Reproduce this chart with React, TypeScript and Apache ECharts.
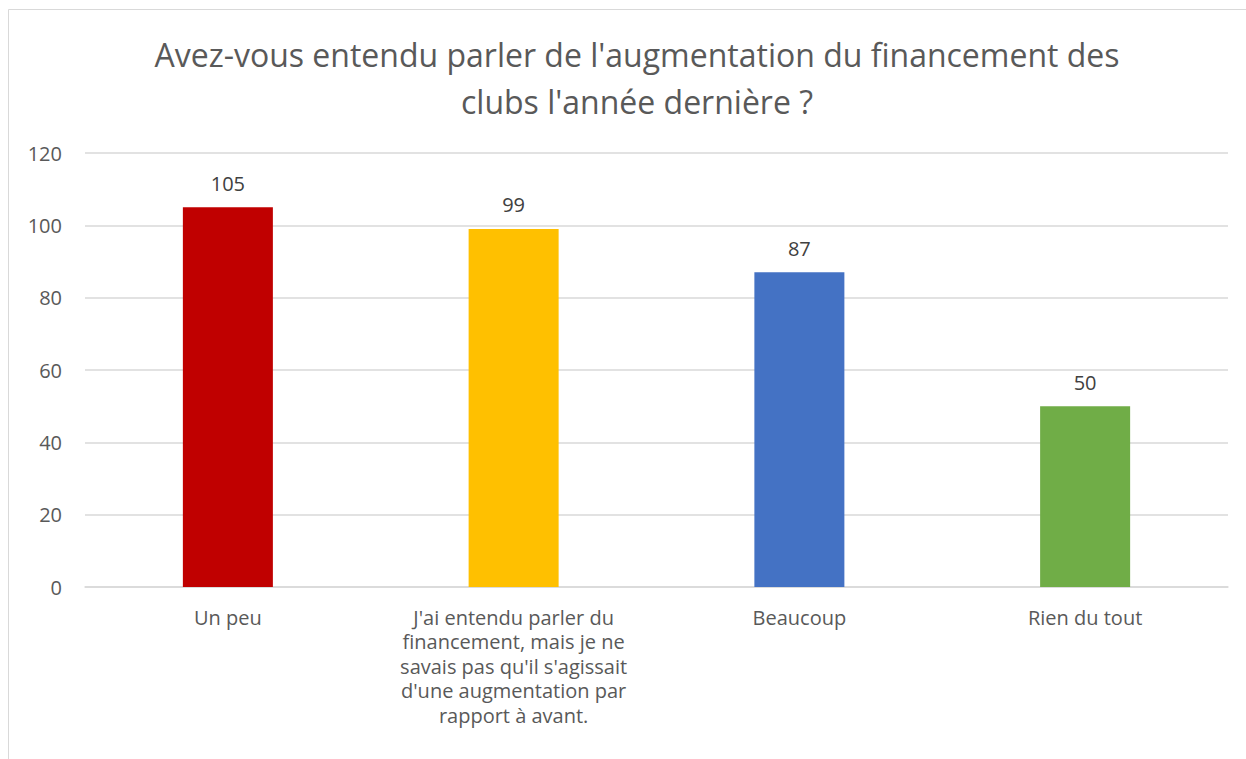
import React, { useEffect, useRef } from "react";
import * as echarts from "echarts";

const titleText = "Avez-vous entendu parler de l'augmentation du financement des\nclubs l'année dernière ?";
const categories = [
  "Un peu",
  "J'ai entendu parler du\nfinancement, mais je ne\nsavais pas qu'il s'agissait\nd'une augmentation par\nrapport à avant.",
  "Beaucoup",
  "Rien du tout",
];
const values = [105, 99, 87, 50];
const barColors = ["#C00000", "#FFC000", "#4472C4", "#70AD47"];
const yTicks = { min: 0, max: 120, interval: 20 };

const FONT = "'Open Sans', 'Noto Sans', sans-serif";

export default function App() {
  const ref = useRef<HTMLDivElement>(null);
  useEffect(() => {
    if (!ref.current) return;
    const chart = echarts.init(ref.current, null, { renderer: "svg" });
    chart.setOption({
      animation: false,
      backgroundColor: "#ffffff",
      title: {
        text: titleText,
        left: 632,
        textAlign: "center",
        top: 26,
        textStyle: {
          fontFamily: FONT,
          fontSize: 32,
          fontWeight: "normal",
          color: "#595959",
          lineHeight: 47,
        },
      },
      graphic: [
        {
          type: "rect",
          shape: { x: 8.5, y: 9.5, width: 1300, height: 800 },
          style: { fill: "none", stroke: "#d9d9d9", lineWidth: 1 },
          silent: true,
        },
      ],
      grid: { left: 85, right: 18, top: 153, bottom: 172, containLabel: false },
      xAxis: {
        type: "category",
        data: categories,
        axisLine: { show: true, lineStyle: { color: "#d9d9d9", width: 1.5 } },
        axisTick: { show: false },
        axisLabel: {
          interval: 0,
          margin: 18,
          fontFamily: FONT,
          fontSize: 20,
          color: "#595959",
          lineHeight: 24.5,
          align: "center",
          verticalAlign: "top",
        },
      },
      yAxis: {
        type: "value",
        min: yTicks.min,
        max: yTicks.max,
        interval: yTicks.interval,
        axisLine: { show: false },
        axisTick: { show: false },
        splitLine: { lineStyle: { color: "#d9d9d9", width: 1.5 } },
        axisLabel: {
          margin: 23,
          fontFamily: FONT,
          fontSize: 20,
          color: "#595959",
        },
      },
      series: [
        {
          type: "bar",
          data: values.map((v, i) => ({ value: v, itemStyle: { color: barColors[i] } })),
          barWidth: "31.5%",
          label: {
            show: true,
            position: "top",
            distance: 14,
            fontFamily: FONT,
            fontSize: 20,
            color: "#404040",
          },
        },
      ],
    });
    return () => chart.dispose();
  }, []);
  return (
    <div
      ref={ref}
      style={{ position: "fixed", left: 0, top: 0, width: 1246, height: 759, background: "#fff" }}
    />
  );
}
